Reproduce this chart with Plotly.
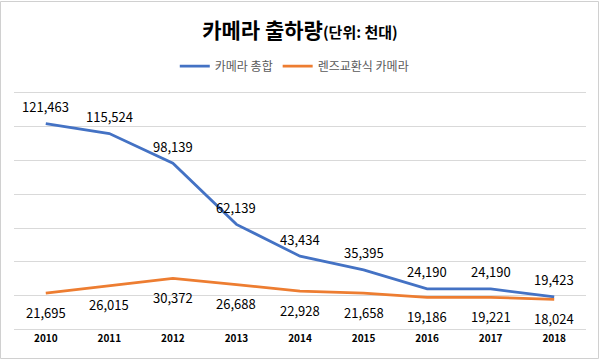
import plotly.graph_objects as go

years = ["2010", "2011", "2012", "2013", "2014", "2015", "2016", "2017", "2018"]
total = [121463, 115524, 98139, 62139, 43434, 35395, 24190, 24190, 19423]
interchangeable = [21695, 26015, 30372, 26688, 22928, 21658, 19186, 19221, 18024]
series_names = ["카메라 총합", "렌즈교환식 카메라"]

BLUE = "#4472C4"
ORANGE = "#ED7D31"
FONT = "Noto Sans CJK KR"

fig = go.Figure()
fig.add_trace(go.Scatter(x=years, y=total, mode="lines", name=series_names[0],
                         line=dict(color=BLUE, width=2.75)))
fig.add_trace(go.Scatter(x=years, y=interchangeable, mode="lines", name=series_names[1],
                         line=dict(color=ORANGE, width=2.75)))

for i, v in enumerate(total):
    fig.add_annotation(x=i, y=v, text=f"{v:,}", showarrow=False, yshift=17,
                       font=dict(family=FONT, size=13, color="#000000"))
for i, v in enumerate(interchangeable):
    fig.add_annotation(x=i, y=v, text=f"{v:,}", showarrow=False, yshift=-19,
                       font=dict(family=FONT, size=13, color="#000000"))

W, H = 600, 360
ml, mr, mt, mb = 14, 14, 91, 29
pw, ph = W - ml - mr, H - mt - mb

# outer frame
fig.add_shape(type="rect", xref="paper", yref="paper",
              x0=(0.5 - ml) / pw, x1=(W - 1.5 - ml) / pw,
              y0=-(mb - 1.5) / ph, y1=1 + (mt - 1.5) / ph,
              line=dict(color="#d0d0d0", width=1), layer="below")

fig.update_layout(
    width=W, height=H,
    margin=dict(l=ml, r=mr, t=mt, b=mb, autoexpand=False),
    paper_bgcolor="white", plot_bgcolor="white",
    font=dict(family=FONT, color="#000000"),
    title=dict(text="<b>카메라 출하량</b><b><span style='font-size:15px'>(단위: 천대)</span></b>",
               x=0.5, xanchor="center", y=1 - 31 / H, yanchor="middle",
               font=dict(family=FONT, size=21, color="#000000")),
    legend=dict(orientation="h", x=0.49, xanchor="center", y=1 + (mt - 66) / ph,
                yanchor="middle", font=dict(family=FONT, size=12, color="#595959"),
                itemwidth=30, bgcolor="rgba(0,0,0,0)"),
    showlegend=True,
)
fig.update_xaxes(type="category", range=[-0.5, len(years) - 0.5],
                 showgrid=False, showline=False, ticks="",
                 tickfont=dict(family=FONT, size=10, color="#000000", weight="bold"))
fig.update_yaxes(range=[-600, 140600], tick0=0, dtick=20000, showticklabels=False,
                 gridcolor="#d9d9d9", gridwidth=1, zeroline=False, showline=False)

fig.write_html("out.html", config={"displayModeBar": False},
               post_script="document.body.style.margin='0';document.body.style.overflow='hidden';")
